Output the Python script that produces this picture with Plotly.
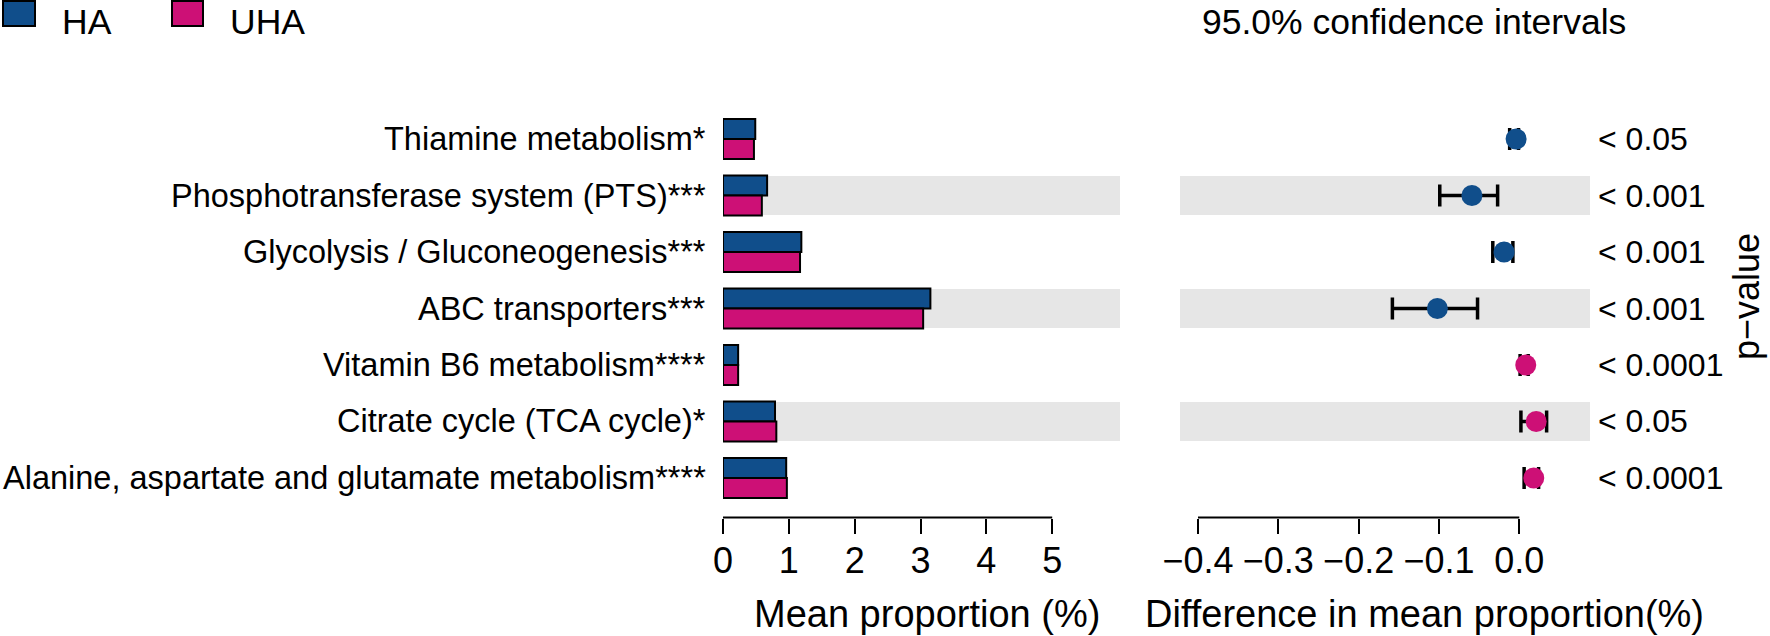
import plotly.graph_objects as go

# ---------------- data ----------------
categories = [
    "Thiamine metabolism*",
    "Phosphotransferase system (PTS)***",
    "Glycolysis / Gluconeogenesis***",
    "ABC transporters***",
    "Vitamin B6 metabolism****",
    "Citrate cycle (TCA cycle)*",
    "Alanine, aspartate and glutamate metabolism****",
]
ha_mean = [0.49, 0.67, 1.19, 3.15, 0.23, 0.79, 0.96]
uha_mean = [0.47, 0.59, 1.17, 3.04, 0.23, 0.81, 0.97]
diff_mean = [-0.004, -0.059, -0.019, -0.102, 0.008, 0.021, 0.018]
ci_low = [-0.012, -0.099, -0.033, -0.158, 0.001, 0.002, 0.006]
ci_high = [-0.001, -0.027, -0.008, -0.052, 0.011, 0.034, 0.024]
p_labels = ["< 0.05", "< 0.001", "< 0.001", "< 0.001", "< 0.0001", "< 0.05", "< 0.0001"]
left_ticks = [0, 1, 2, 3, 4, 5]
right_ticks = [-0.4, -0.3, -0.2, -0.1, 0.0]
right_ticktext = ["\u22120.4", "\u22120.3", "\u22120.2", "\u22120.1", "0.0"]
groups = ["HA", "UHA"]

# ---------------- style ----------------
W, H = 1770, 636
C_HA = "#104E8B"
C_UHA = "#CD1076"
BAND = "#E6E6E6"
FONT = "Liberation Sans, Arial, sans-serif"

def px_x(p):
    return p / W

def px_y(p):
    return 1 - p / H

n = len(categories)
ydom = [px_y(517.5), px_y(99.5)]
yrange = [n - 1 + 0.7, -0.7]

fig = go.Figure()

# bars (left panel)
fig.add_trace(go.Bar(
    y=categories, x=ha_mean, orientation="h", name=groups[0],
    marker=dict(color=C_HA, line=dict(color="black", width=2)),
    xaxis="x", yaxis="y", showlegend=False,
))
fig.add_trace(go.Bar(
    y=categories, x=uha_mean, orientation="h", name=groups[1],
    marker=dict(color=C_UHA, line=dict(color="black", width=2)),
    xaxis="x", yaxis="y", showlegend=False,
))

# difference points with CI (right panel)
pt_colors = [C_HA if d < 0 else C_UHA for d in diff_mean]
fig.add_trace(go.Scatter(
    x=diff_mean, y=categories, mode="markers",
    marker=dict(color=pt_colors, size=21, line=dict(width=0)),
    error_x=dict(
        type="data", symmetric=False,
        array=[h - m for h, m in zip(ci_high, diff_mean)],
        arrayminus=[m - l for m, l in zip(diff_mean, ci_low)],
        color="black", thickness=3.5, width=11,
    ),
    xaxis="x2", yaxis="y2", showlegend=False,
))

shapes = []
annotations = []

# alternating gray bands
for i, c in enumerate(categories):
    if i % 2 == 1:
        for xr, yr in (("x domain", "y"), ("x2 domain", "y2")):
            shapes.append(dict(
                type="rect", xref=xr, yref=yr, x0=0, x1=1,
                y0=i - 0.345, y1=i + 0.345,
                fillcolor=BAND, line=dict(width=0), layer="below",
            ))

# axis lines spanning only the tick range
shapes.append(dict(type="line", xref="x", yref="y domain",
                   x0=left_ticks[0], x1=left_ticks[-1], y0=0, y1=0,
                   line=dict(color="black", width=2)))
shapes.append(dict(type="line", xref="x2", yref="y2 domain",
                   x0=right_ticks[0], x1=right_ticks[-1], y0=0, y1=0,
                   line=dict(color="black", width=2)))

# category labels
for c in categories:
    annotations.append(dict(
        text=c, xref="paper", yref="y", x=px_x(708), y=c,
        xanchor="right", yanchor="middle", showarrow=False,
        font=dict(size=32.5, color="black", family=FONT),
    ))

# p-value labels
for c, p in zip(categories, p_labels):
    annotations.append(dict(
        text=p, xref="paper", yref="y2", x=px_x(1596), y=c,
        xanchor="left", yanchor="middle", showarrow=False,
        font=dict(size=32, color="black", family=FONT),
    ))

# axis titles
annotations.append(dict(text="Mean proportion (%)", xref="paper", yref="paper",
                        x=px_x(927), y=px_y(614), xanchor="center", yanchor="middle",
                        showarrow=False, font=dict(size=38, color="black", family=FONT)))
annotations.append(dict(text="Difference in mean proportion(%)", xref="paper", yref="paper",
                        x=px_x(1424), y=px_y(614), xanchor="center", yanchor="middle",
                        showarrow=False, font=dict(size=38, color="black", family=FONT)))
annotations.append(dict(text="95.0% confidence intervals", xref="paper", yref="paper",
                        x=px_x(1200), y=1, xanchor="left", yanchor="top",
                        showarrow=False, font=dict(size=35.5, color="black", family=FONT)))
annotations.append(dict(text="p\u2212value", xref="paper", yref="paper",
                        x=px_x(1746), y=px_y(297), xanchor="center", yanchor="middle",
                        textangle=-90, showarrow=False,
                        font=dict(size=36, color="black", family=FONT)))

# manual legend
leg = [(groups[0], C_HA, 3, 35, 60), (groups[1], C_UHA, 172, 203, 228)]
for name, col, x0, x1, tx in leg:
    shapes.append(dict(type="rect", xref="paper", yref="paper",
                       x0=px_x(x0), x1=px_x(x1), y0=px_y(26), y1=px_y(1),
                       fillcolor=col, line=dict(color="black", width=2)))
    annotations.append(dict(text=name, xref="paper", yref="paper",
                            x=px_x(tx), y=1, xanchor="left", yanchor="top",
                            showarrow=False, font=dict(size=35.5, color="black", family=FONT)))

axis_common = dict(showgrid=False, zeroline=False, showline=False,
                   ticks="outside", ticklen=15, tickwidth=2, tickcolor="black",
                   ticklabelstandoff=-4,
                   tickfont=dict(size=36, color="black", family=FONT))

fig.update_layout(
    width=W, height=H,
    margin=dict(l=0, r=0, t=0, b=0, autoexpand=False),
    paper_bgcolor="white", plot_bgcolor="white",
    barmode="group", bargap=0.29, bargroupgap=0,
    font=dict(family=FONT, color="black"),
    xaxis=dict(domain=[px_x(723), px_x(1120)], range=[0, 6.03],
               tickvals=left_ticks, ticktext=[str(t) for t in left_ticks],
               anchor="y", **axis_common),
    xaxis2=dict(domain=[px_x(1180), px_x(1590)], range=[-0.4224, 0.088],
                tickvals=right_ticks, ticktext=right_ticktext,
                anchor="y2", **axis_common),
    yaxis=dict(domain=ydom, range=yrange, type="category",
               categoryorder="array", categoryarray=categories,
               showticklabels=False, showgrid=False, zeroline=False, ticks="",
               anchor="x"),
    yaxis2=dict(domain=ydom, range=yrange, type="category",
                categoryorder="array", categoryarray=categories,
                showticklabels=False, showgrid=False, zeroline=False, ticks="",
                anchor="x2"),
    shapes=shapes,
    annotations=annotations,
)

fig.write_html(
    "out.html",
    config={"displayModeBar": False},
    post_script="document.body.style.margin='0';document.body.style.overflow='hidden';",
)
